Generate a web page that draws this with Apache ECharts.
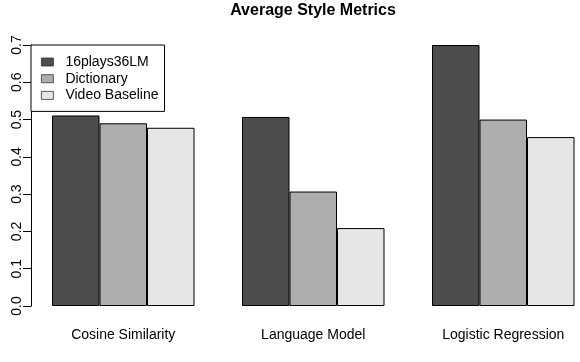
<!DOCTYPE html>
<html>
<head>
<meta charset="utf-8">
<script src="https://cdn.jsdelivr.net/npm/echarts@6/dist/echarts.min.js"></script>
<style>
  html, body { margin: 0; padding: 0; background: #fff; }
  #chart { width: 580px; height: 362px; }
</style>
</head>
<body>
<div id="chart"></div>
<script>
  var categories = ['Cosine Similarity', 'Language Model', 'Logistic Regression'];
  var seriesNames = ['16plays36LM', 'Dictionary', 'Video Baseline'];
  var lmValues = [0.511, 0.507, 0.700];
  var dictValues = [0.490, 0.307, 0.500];
  var videoValues = [0.478, 0.209, 0.453];
  var yTicks = [0, 0.7, 0.1]; // min, max, step
  var colors = ['#4D4D4D', '#AEAEAE', '#E6E6E6'];

  var font = "'Liberation Sans', Arial, sans-serif";
  var chart = echarts.init(document.getElementById('chart'));

  function barSeries(name, data, color) {
    return {
      name: name,
      type: 'bar',
      data: data,
      barGap: '0%',
      barCategoryGap: '25%',
      itemStyle: { color: color, borderColor: '#000', borderWidth: 1 }
    };
  }

  chart.setOption({
    animation: false,
    textStyle: { fontFamily: font },
    title: {
      text: 'Average Style Metrics',
      left: 313,
      top: 3,
      padding: 0,
      textAlign: 'center',
      textStyle: { fontSize: 16, fontWeight: 'bold', color: '#000', fontFamily: font }
    },
    legend: {
      orient: 'vertical',
      left: 31,
      top: 45,
      padding: [10, 6, 9, 10],
      itemGap: 2.7,
      itemWidth: 12,
      itemHeight: 8,
      backgroundColor: '#fff',
      borderColor: '#000',
      borderWidth: 1,
      borderRadius: 0,
      icon: 'rect',
      itemStyle: { borderColor: '#333', borderWidth: 0.8 },
      textStyle: { fontSize: 14, color: '#000', fontFamily: font, padding: [0, 0, 0, 7] },
      data: seriesNames
    },
    grid: {
      left: 28.25, right: -18.25, top: 45, bottom: 56,
      containLabel: false, outerBoundsMode: 'none'
    },
    xAxis: {
      type: 'category',
      data: categories,
      axisLine: { show: false },
      axisTick: { show: false },
      axisLabel: { fontSize: 14, color: '#000', margin: 22, fontFamily: font }
    },
    yAxis: {
      type: 'value',
      min: yTicks[0],
      max: yTicks[1],
      interval: yTicks[2],
      offset: -2.75,
      splitLine: { show: false },
      axisLine: { show: true, lineStyle: { color: '#000', width: 1 } },
      axisTick: { show: true, length: 8, lineStyle: { color: '#000' } },
      axisLabel: {
        fontSize: 14, color: '#000', margin: 7, rotate: 90, fontFamily: font,
        formatter: function (v) { return v.toFixed(1); }
      }
    },
    series: [
      barSeries(seriesNames[0], lmValues, colors[0]),
      barSeries(seriesNames[1], dictValues, colors[1]),
      barSeries(seriesNames[2], videoValues, colors[2])
    ]
  });
</script>
</body>
</html>
